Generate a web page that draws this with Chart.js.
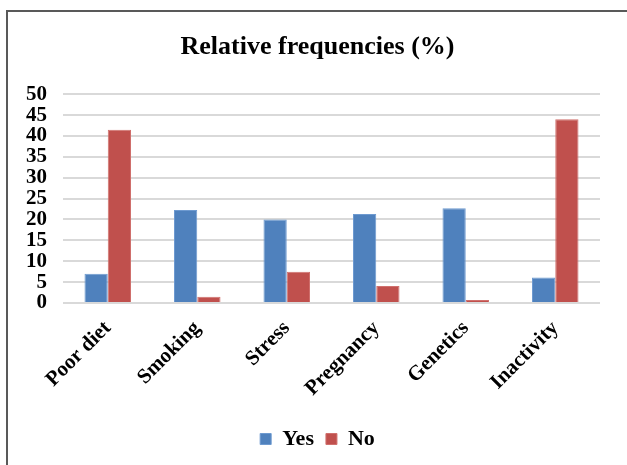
<!DOCTYPE html>
<html>
<head>
<meta charset="utf-8">
<script src="https://cdn.jsdelivr.net/npm/chart.js@4"></script>
<style>
  html, body { margin: 0; padding: 0; background: #fff; }
  #wrap { position: relative; width: 627px; height: 465px; overflow: hidden; }
  #frame { position: absolute; left: 6px; top: 10px; width: 640px; height: 480px;
           border-left: 2px solid #595959; border-top: 2px solid #595959; }
  canvas { position: absolute; left: 0; top: 0; }
</style>
</head>
<body>
<div id="wrap">
  <div id="frame"></div>
  <canvas id="c" width="627" height="465"></canvas>
</div>
<script>
const categories = ["Poor diet", "Smoking", "Stress", "Pregnancy", "Genetics", "Inactivity"];
const yesValues = [7.0, 22.3, 20.0, 21.3, 22.7, 6.1];
const noValues = [41.5, 1.5, 7.5, 4.1, 0.7, 44.0];
const yTicks = [0, 5, 10, 15, 20, 25, 30, 35, 40, 45, 50];
const titleText = "Relative frequencies (%)";

const FONT = "'Liberation Serif', 'Times New Roman', serif";

new Chart(document.getElementById('c'), {
  type: 'bar',
  data: {
    labels: categories,
    datasets: [
      { label: 'Yes', data: yesValues, backgroundColor: '#4F81BD', borderColor: '#6E9AD0', borderWidth: 1,
        categoryPercentage: 0.52, barPercentage: 1.0 },
      { label: 'No', data: noValues, backgroundColor: '#C0504D', borderColor: '#D0706D', borderWidth: 1,
        categoryPercentage: 0.52, barPercentage: 1.0 }
    ]
  },
  options: {
    responsive: false,
    animation: false,
    devicePixelRatio: 1,
    layout: { padding: { left: 8, right: 0, top: 0, bottom: 5 } },
    plugins: {
      title: {
        display: true, text: titleText, color: '#000',
        font: { family: FONT, size: 26, weight: 'bold' },
        padding: { top: 32, bottom: 31 }
      },
      legend: {
        display: true, position: 'bottom',
        labels: {
          color: '#000', boxWidth: 11, boxHeight: 11, padding: 12,
          font: { family: FONT, size: 22, weight: 'bold' }
        }
      },
      tooltip: { enabled: false }
    },
    scales: {
      x: {
        grid: { display: false, drawTicks: false },
        border: { display: false },
        ticks: {
          color: '#000', minRotation: 45, maxRotation: 45, padding: 13,
          font: { family: FONT, size: 21, weight: 'bold' }
        },
        afterFit: (s) => { s.height = 113; }
      },
      y: {
        min: 0, max: 50,
        afterBuildTicks: (s) => { s.ticks = yTicks.map(v => ({ value: v })); },
        grid: { color: '#D9D9D9', lineWidth: 2, drawTicks: false },
        border: { display: false },
        ticks: {
          color: '#000', padding: 16, autoSkip: false,
          font: { family: FONT, size: 21, weight: 'bold' }
        },
        afterFit: (s) => { s.width = 55; }
      },
      yRight: {
        position: 'right', min: 0, max: 50,
        grid: { display: false, drawOnChartArea: false, drawTicks: false },
        border: { display: false },
        ticks: { display: false },
        afterFit: (s) => { s.width = 27; }
      }
    }
  }
});
</script>
</body>
</html>
